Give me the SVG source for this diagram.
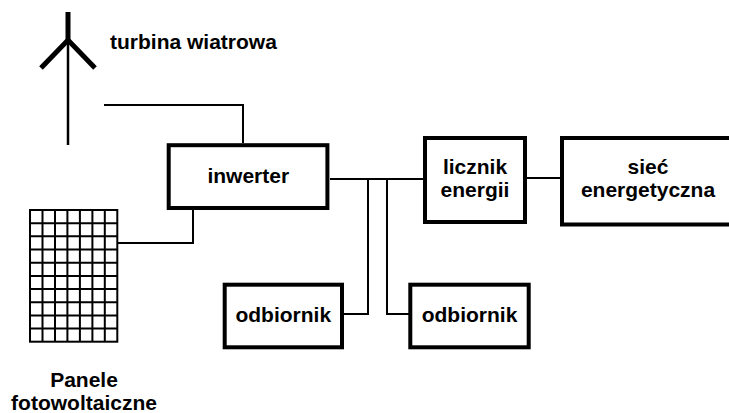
<svg xmlns="http://www.w3.org/2000/svg" width="729" height="413" viewBox="0 0 729 413">
<style>
.box{fill:#fff;stroke:#000;stroke-width:4}
.wire{fill:none;stroke:#000;stroke-width:2}
.grid{fill:none;stroke:#000;stroke-width:2}
.lbl{font-family:"Liberation Sans",Arial,sans-serif;font-weight:bold;font-size:21px;fill:#000}
.c{text-anchor:middle}
</style>
<rect width="729" height="413" fill="#fff"/>
<g id="connectors">
<polyline class="wire" points="104,105 243,105 243,143"/>
<polyline class="wire" points="193,209 193,243 117,243"/>
<line class="wire" x1="330" y1="179" x2="424" y2="179"/>
<polyline class="wire" points="368,179 368,314 344,314"/>
<polyline class="wire" points="387,179 387,314 409,314"/>
<line class="wire" x1="526" y1="178" x2="561" y2="178"/>
</g>
<g id="turbine">
<line x1="68" y1="12" x2="68" y2="40" stroke="#000" stroke-width="5"/>
<polyline points="41,68 68,40 95,68" fill="none" stroke="#000" stroke-width="5"/>
<line x1="68" y1="40" x2="68" y2="145" stroke="#000" stroke-width="2.5"/>
<text class="lbl" x="110" y="49">turbina wiatrowa</text>
</g>
<g id="panels">
<rect class="grid" x="30" y="210" width="87.3" height="131.7"/>
<path class="grid" d="M42.5,210V341.7M55,210V341.7M67.4,210V341.7M79.9,210V341.7M92.4,210V341.7M104.8,210V341.7M30,223.2H117.3M30,236.3H117.3M30,249.5H117.3M30,262.7H117.3M30,275.9H117.3M30,289H117.3M30,302.2H117.3M30,315.4H117.3M30,328.5H117.3"/>
<text class="lbl c" x="84" y="387">Panele</text>
<text class="lbl c" x="84" y="410">fotowoltaiczne</text>
</g>
<g id="inwerter">
<rect class="box" x="168.7" y="145.2" width="158.7" height="62.8"/>
<text class="lbl c" x="248.3" y="182.5">inwerter</text>
</g>
<g id="licznik">
<rect class="box" x="425" y="138" width="100" height="84"/>
<text class="lbl c" x="475" y="173.5">licznik</text>
<text class="lbl c" x="475" y="197">energii</text>
</g>
<g id="siec">
<rect class="box" x="562" y="138" width="175" height="86.5"/>
<text class="lbl c" x="648" y="173.5">sieć</text>
<text class="lbl c" x="648" y="197">energetyczna</text>
</g>
<g id="odbiornik1">
<rect class="box" x="224.7" y="284.7" width="117.3" height="62.6"/>
<text class="lbl c" x="283.3" y="322">odbiornik</text>
</g>
<g id="odbiornik2">
<rect class="box" x="410.3" y="284.7" width="118.4" height="62.6"/>
<text class="lbl c" x="469.5" y="322">odbiornik</text>
</g>
</svg>
